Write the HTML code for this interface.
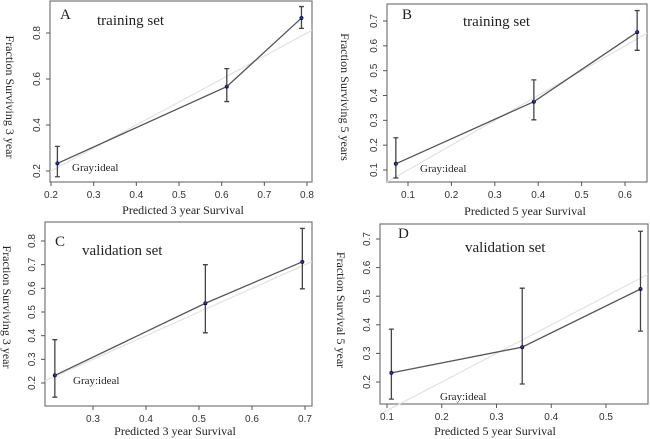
<!DOCTYPE html>
<html><head><meta charset="utf-8"><style>
body{margin:0;background:#fff}
svg{display:block}
text{font-family:"Liberation Serif",serif;fill:#222}
.tk{font-family:"Liberation Sans",sans-serif;font-size:10px;fill:#333}
</style></head><body>
<svg id="c" width="650" height="439"></svg>
<script>
// Panel A
const aX=[0.215,0.612,0.787], aY=[0.233,0.567,0.865], aLo=[0.175,0.502,0.82], aHi=[0.307,0.645,0.915];
const aXT=["0.2","0.3","0.4","0.5","0.6","0.7","0.8"], aYT=["0.2","0.4","0.6","0.8"];
// Panel B
const bX=[0.072,0.39,0.628], bY=[0.125,0.375,0.655], bLo=[0.068,0.302,0.582], bHi=[0.23,0.463,0.742];
const bXT=["0.1","0.2","0.3","0.4","0.5","0.6"], bYT=["0.1","0.2","0.3","0.4","0.5","0.6","0.7"];
// Panel C
const cX=[0.228,0.512,0.695], cY=[0.232,0.537,0.712], cLo=[0.14,0.412,0.598], cHi=[0.383,0.70,0.853];
const cXT=["0.3","0.4","0.5","0.6","0.7"], cYT=["0.2","0.3","0.4","0.5","0.6","0.7","0.8"];
// Panel D
const dX=[0.108,0.347,0.563], dY=[0.232,0.322,0.525], dLo=[0.14,0.193,0.378], dHi=[0.385,0.528,0.727];
const dXT=["0.1","0.2","0.3","0.4","0.5"], dYT=["0.2","0.3","0.4","0.5","0.6","0.7"];

const NS="http://www.w3.org/2000/svg", svg=document.getElementById('c');
function el(t,a,p){const e=document.createElementNS(NS,t);for(const k in a)e.setAttribute(k,a[k]);(p||svg).appendChild(e);return e;}
function panel(o){
  const g=el('g',{});
  
  
  const sx=v=>o.px0+(v-o.vx0)*(o.px1-o.px0)/(o.vx1-o.vx0);
  const sy=v=>o.py0+(v-o.vy0)*(o.py1-o.py0)/(o.vy1-o.vy0);
  const box=el('rect',{x:o.L,y:o.T,width:o.R-o.L,height:o.B-o.T,fill:'none',stroke:'#777','stroke-width':1.2},g);
  
  
  const il=el('line',{x1:o.L,y1:sy(o.vx0+(o.L-o.px0)*(o.vx1-o.vx0)/(o.px1-o.px0)),x2:o.R,y2:sy(o.vx0+(o.R-o.px0)*(o.vx1-o.vx0)/(o.px1-o.px0)),stroke:'#e2e2e2','stroke-width':1.2},g);
  
  
  o.xt.forEach(t=>{const v=parseFloat(t),x=sx(v);
    el('line',{x1:x,y1:o.B,x2:x,y2:o.B+4,stroke:'#555'},g);
    const tx=el('text',{x:x,y:o.B+16,'text-anchor':'middle',class:'tk'},g);tx.textContent=t;
    
    });
  o.yt.forEach(t=>{const v=parseFloat(t),y=sy(v);
    el('line',{x1:o.L-4,y1:y,x2:o.L,y2:y,stroke:'#555'},g);
    const tx=el('text',{x:o.L-10,y:y,'text-anchor':'middle',class:'tk',transform:`rotate(-90 ${o.L-10} ${y})`},g);tx.textContent=t;
    
    });
  const pts=o.x.map((v,i)=>sx(v)+','+sy(o.y[i])).join(' ');
  const pl=el('polyline',{points:pts,fill:'none',stroke:'#555','stroke-width':1.3},g);
  
  
  o.x.forEach((v,i)=>{const x=sx(v);
    const eb=el('path',{d:`M${x},${sy(o.lo[i])}V${sy(o.hi[i])}M${x-2.5},${sy(o.lo[i])}h5M${x-2.5},${sy(o.hi[i])}h5`,stroke:'#444','stroke-width':1.3,fill:'none'},g);
    
    
    const c=el('circle',{cx:x,cy:sy(o.y[i]),r:2,fill:'#0a0a40'},g);
    
    
    el('text',{x:x,y:sy(o.y[i])+2,'text-anchor':'middle','font-size':'6px',style:'fill:#5566dd;font-family:Liberation Sans'},g).textContent='×';
  });
  const lt=el('text',{x:o.lx,y:o.ly,'font-size':'15px'},g);lt.textContent=o.id;
  
  const st=el('text',{x:o.sx,y:o.sy,'font-size':'15px'},g);st.textContent=o.set;
  
  const gi=el('text',{x:o.gx,y:o.gy,'font-size':'11px'},g);gi.textContent='Gray:ideal';
  
  const xt=el('text',{x:o.xtx,y:o.xty,'text-anchor':'middle','font-size':'12px'},g);xt.textContent=o.xtitle;
  
  const yt=el('text',{x:o.ytx,y:o.yty,'text-anchor':'middle','font-size':'12px',transform:`rotate(90 ${o.ytx} ${o.yty})`},g);yt.textContent=o.ytitle;
  
}
panel({id:'A',set:'training set',L:50,R:312,T:1,B:182,px0:51,px1:307,vx0:0.2,vx1:0.8,py0:171,py1:33,vy0:0.2,vy1:0.8,
 xt:aXT,yt:aYT,x:aX,y:aY,lo:aLo,hi:aHi,lx:60,ly:19,sx:97,sy:25,gx:72,gy:171,
 xtitle:'Predicted 3 year Survival',xtx:183,xty:214,ytitle:'Fraction Surviving 3 year',ytx:6,yty:97});
panel({id:'B',set:'training set',L:387,R:647,T:4,B:182,px0:408,px1:625,vx0:0.1,vx1:0.6,py0:170,py1:21,vy0:0.1,vy1:0.7,
 xt:bXT,yt:bYT,x:bX,y:bY,lo:bLo,hi:bHi,lx:402,ly:19,sx:463,sy:26,gx:420,gy:172,
 xtitle:'Predicted 5 year Survival',xtx:525,xty:215,ytitle:'Fraction Surviving 5 years',ytx:341,yty:97});
panel({id:'C',set:'validation set',L:45,R:312,T:222,B:406,px0:93,px1:305,vx0:0.3,vx1:0.7,py0:383,py1:241,vy0:0.2,vy1:0.8,
 xt:cXT,yt:cYT,x:cX,y:cY,lo:cLo,hi:cHi,lx:55,ly:246,sx:82,sy:255,gx:73,gy:384,
 xtitle:'Predicted 3 year  Survival',xtx:175,xty:435,ytitle:'Fraction Surviving 3 year',ytx:3,yty:307});
panel({id:'D',set:'validation set',L:380,R:648,T:224,B:404,px0:387,px1:606,vx0:0.1,vx1:0.5,py0:382,py1:239,vy0:0.2,vy1:0.7,
 xt:dXT,yt:dYT,x:dX,y:dY,lo:dLo,hi:dHi,lx:398,ly:238,sx:465,sy:252,gx:440,gy:400,
 xtitle:'Predicted 5 year Survival',xtx:495,xty:435,ytitle:'Fraction Survival 5 year',ytx:337,yty:310});
</script>
</body></html>
